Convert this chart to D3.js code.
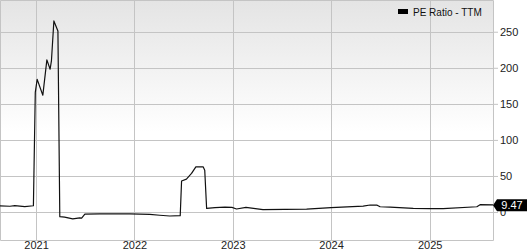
<!DOCTYPE html>
<html>
<head>
<meta charset="utf-8">
<script src="https://cdn.jsdelivr.net/npm/d3@7"></script>
<style>
  body { margin: 0; background: #fff; }
  svg { display: block; font-family: "Liberation Sans", Arial, sans-serif; }
</style>
</head>
<body>
<svg id="chart" width="527" height="250"></svg>
<script>
// PE ratio (TTM)
let dates = [
  "2020-08-20", "2020-09-26", "2020-10-14", "2020-11-20", "2020-12-22",
  "2020-12-29", "2021-01-05", "2021-01-26", "2021-02-10", "2021-02-22",
  "2021-02-27", "2021-03-08", "2021-03-23", "2021-03-30", "2021-04-17",
  "2021-05-17", "2021-06-12", "2021-06-19", "2021-07-01", "2021-08-25",
  "2021-12-15", "2022-02-27", "2022-04-05", "2022-05-12", "2022-06-20",
  "2022-06-25", "2022-07-13", "2022-08-01", "2022-08-17", "2022-09-13",
  "2022-09-19", "2022-09-26", "2022-10-27", "2022-12-03", "2022-12-29",
  "2023-01-15", "2023-02-19", "2023-04-23", "2023-10-02", "2024-01-01",
  "2024-04-29", "2024-05-25", "2024-06-20", "2024-07-01", "2024-08-07",
  "2024-11-01", "2025-01-03", "2025-02-20", "2025-06-25", "2025-07-07",
  "2025-08-24"
];
let peValues = [
  8.5, 8.0, 8.8, 7.5, 8.7,
  166, 184, 162, 211, 198,
  210, 265, 251, -6.5, -7,
  -9.5, -8, -8.5, -3, -2.5,
  -2.5, -3.3, -4.5, -5.5, -5,
  43, 45.6, 53.5, 62.7, 62.7,
  58, 5, 6, 6.7, 6.5,
  4.2, 6.4, 3.2, 4.1, 6.1,
  8.3, 9.7, 9.5, 7.3, 6.9,
  5, 4.6, 4.6, 7.3, 10.2,
  10.0
];
let yTicks = [0, 50, 100, 150, 200, 250];
let yearTicks = ["2021", "2022", "2023", "2024", "2025"];
let lastLabel = "9.47";
let seriesName = "PE Ratio - TTM";

let width = 527,
    height = 250,
    plot = {left: 0, top: 0, right: 493, bottom: 240};

let parseDate = d3.timeParse("%Y-%m-%d");
let data = dates.map((d, i) => ({date: parseDate(d), pe: peValues[i]}));

let x = d3.scaleTime()
  .domain([parseDate("2020-08-20"), parseDate("2025-08-24")])
  .range([plot.left, plot.right]);
let y = d3.scaleLinear()
  .domain([-38.8, 294])
  .range([plot.bottom, plot.top]);

let svg = d3.select("#chart");

// background gradient
let grad = svg.append("defs").append("linearGradient")
  .attr("id", "bg").attr("x1", 0).attr("y1", 0).attr("x2", 0).attr("y2", 1);
grad.append("stop").attr("offset", "0%").attr("stop-color", "#e4e4e4");
grad.append("stop").attr("offset", "55%").attr("stop-color", "#ffffff");
grad.append("stop").attr("offset", "100%").attr("stop-color", "#ffffff");

svg.append("rect")
  .attr("x", plot.left).attr("y", plot.top)
  .attr("width", plot.right - plot.left).attr("height", plot.bottom - plot.top)
  .attr("fill", "url(#bg)");

// horizontal grid + right axis
let yAxis = d3.axisRight(y)
  .tickValues(yTicks)
  .tickSize(5)
  .tickPadding(2);
let yg = svg.append("g")
  .attr("transform", `translate(${plot.right},0)`)
  .call(yAxis);
yg.select(".domain").remove();
yg.selectAll("line").attr("stroke", "#c4c4c4");
yg.selectAll("text").attr("font-size", 11).attr("fill", "#222")
  .attr("font-family", "Liberation Sans, Arial, sans-serif");

svg.append("g").selectAll("line")
  .data(yTicks).enter().append("line")
  .attr("x1", plot.left).attr("x2", plot.right)
  .attr("y1", d => Math.round(y(d)) + 0.5).attr("y2", d => Math.round(y(d)) + 0.5)
  .attr("stroke", "#c4c4c4");

// vertical grid + bottom axis
let yearDates = yearTicks.map(t => parseDate(t + "-01-01"));
svg.append("g").selectAll("line")
  .data(yearDates).enter().append("line")
  .attr("x1", d => Math.round(x(d)) + 0.5).attr("x2", d => Math.round(x(d)) + 0.5)
  .attr("y1", plot.top).attr("y2", plot.bottom)
  .attr("stroke", "#c4c4c4");

let xAxis = d3.axisBottom(x)
  .tickValues(yearDates)
  .tickFormat(d3.timeFormat("%Y"))
  .tickSize(0)
  .tickPadding(1);
let xg = svg.append("g")
  .attr("transform", `translate(0,${plot.bottom})`)
  .call(xAxis);
xg.select(".domain").remove();
xg.selectAll("text").attr("font-size", 11).attr("fill", "#222")
  .attr("font-family", "Liberation Sans, Arial, sans-serif");

// frame
svg.append("path")
  .attr("d", `M${plot.left + 0.5},${plot.top + 0.5}H${plot.right + 0.5}V${plot.bottom + 0.5}H${plot.left + 0.5}Z`)
  .attr("fill", "none")
  .attr("stroke", "#c4c4c4");

// series line
let line = d3.line()
  .x(d => x(d.date))
  .y(d => y(d.pe));
svg.append("path")
  .datum(data)
  .attr("d", line)
  .attr("fill", "none")
  .attr("stroke", "#111")
  .attr("stroke-width", 1.2)
  .attr("stroke-linejoin", "round");

// last value marker
let last = data[data.length - 1],
    ly = y(+lastLabel);
let tag = svg.append("g").attr("transform", `translate(${plot.right},${ly})`);
tag.append("path")
  .attr("d", "M0,0L4,-6H34V6H4Z")
  .attr("fill", "#000");
tag.append("text")
  .attr("x", 19).attr("y", 4)
  .attr("text-anchor", "middle")
  .attr("font-size", 11)
  .attr("fill", "#fff")
  .text(lastLabel);

// legend
let legend = svg.append("g").attr("transform", "translate(398,9)");
legend.append("rect")
  .attr("width", 10).attr("height", 5)
  .attr("fill", "#000");
legend.append("text")
  .attr("x", 15).attr("y", 7)
  .attr("font-size", 10)
  .attr("fill", "#111")
  .text(seriesName);
</script>
</body>
</html>
